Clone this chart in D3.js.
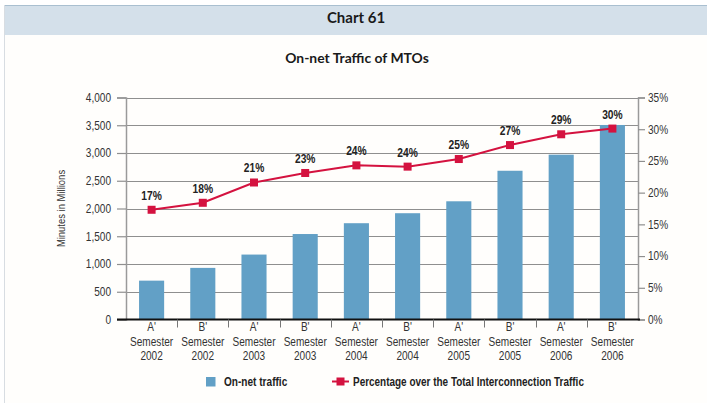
<!DOCTYPE html>
<html><head><meta charset="utf-8">
<script src="https://cdn.jsdelivr.net/npm/d3@7"></script>
<style>
html,body{margin:0;padding:0;background:#fff;}
svg{display:block;}
</style></head>
<body>
<svg id="chart" width="707" height="403"></svg>
<script>
const semesters = ["A'", "B'", "A'", "B'", "A'", "B'", "A'", "B'", "A'", "B'"];
const years = ["2002", "2002", "2003", "2003", "2004", "2004", "2005", "2005", "2006", "2006"];
const categories = semesters.map((s, i) => s + " Semester " + years[i]);
const onNetTraffic = [700, 930, 1170, 1540, 1735, 1915, 2130, 2680, 2970, 3505];
const percentage = [17.3, 18.4, 21.6, 23.1, 24.3, 24.1, 25.3, 27.5, 29.2, 30.1];
const percentLabels = ["17%", "18%", "21%", "23%", "24%", "24%", "25%", "27%", "29%", "30%"];
const leftTicks = [0, 500, 1000, 1500, 2000, 2500, 3000, 3500, 4000];
const rightTicks = [0, 5, 10, 15, 20, 25, 30, 35];
const chartNumber = "Chart 61";
const chartTitle = "On-net Traffic of MTOs";
const yTitle = "Minutes in Millions";
const legendLabels = ["On-net traffic", "Percentage over the Total Interconnection Traffic"];

const svg = d3.select("#chart");
const sans = "'Liberation Sans', Arial, sans-serif";
const NX = 0.84; // horizontal condensing factor
const barColor = "#62a0c6";
const lineColor = "#d4123f";

const plot = {left: 126, right: 638, top: 97.5, bottom: 319.5};

function narrowText(parent, x, y, txt, opts = {}) {
  return parent.append("text")
    .attr("transform", `translate(${x},${y})${opts.rotate ? ` rotate(${opts.rotate})` : ""} scale(${opts.k || NX},1)`)
    .attr("text-anchor", opts.anchor || "middle")
    .attr("font-family", sans)
    .attr("font-weight", opts.bold ? "bold" : "normal")
    .attr("font-size", opts.size || 12)
    .attr("fill", opts.fill || "#333")
    .text(txt);
}

// header band
svg.append("rect").attr("x", 4).attr("y", 5).attr("width", 703).attr("height", 30).attr("fill", "#d4e0ea");
svg.append("line").attr("x1", 4).attr("x2", 707).attr("y1", 5.5).attr("y2", 5.5).attr("stroke", "#a9bfd0").attr("stroke-width", 1);
svg.append("rect").attr("x", 4).attr("y", 35).attr("width", 703).attr("height", 368).attr("fill", "#fffefc");
svg.append("line").attr("x1", 4.5).attr("x2", 4.5).attr("y1", 5).attr("y2", 403).attr("stroke", "#d8dde2");

svg.append("text").attr("x", 356).attr("y", 23).attr("text-anchor", "middle")
  .attr("font-family", "Lato, 'Open Sans', sans-serif").attr("font-weight", "bold").attr("font-size", 15)
  .attr("fill", "#1a1a1a").text(chartNumber);
svg.append("text").attr("x", 357).attr("y", 63).attr("text-anchor", "middle")
  .attr("font-family", "Lato, 'Open Sans', sans-serif").attr("font-weight", "bold").attr("font-size", 13.9)
  .attr("fill", "#1a1a1a").text(chartTitle);

const x = d3.scaleBand().domain(categories).range([plot.left, plot.right]).paddingInner(0.51).paddingOuter(0.255);
const yL = d3.scaleLinear().domain([0, 4000]).range([plot.bottom, plot.top]);
const yR = d3.scaleLinear().domain([0, 35]).range([plot.bottom, plot.top]);
const cx = c => x(c) + x.bandwidth() / 2;

// gridlines
svg.append("g").selectAll("line").data(leftTicks.filter(d => d > 0)).join("line")
  .attr("x1", plot.left).attr("x2", plot.right)
  .attr("y1", d => Math.round(yL(d)) + 0.5).attr("y2", d => Math.round(yL(d)) + 0.5)
  .attr("stroke", "#8f8f8f").attr("stroke-width", 1.2);

// left axis
const gL = svg.append("g").attr("transform", `translate(${plot.left},0)`)
  .call(d3.axisLeft(yL).tickValues(leftTicks).tickFormat(d3.format(",")).tickSize(9).tickPadding(5));
gL.select(".domain").attr("stroke", "#9a9a9a").attr("stroke-width", 1.5);
gL.selectAll(".tick line").attr("stroke", "#8f8f8f").attr("stroke-width", 1.2);
gL.selectAll(".tick text").attr("font-family", sans).attr("font-size", 12).attr("fill", "#333")
  .attr("x", 0).attr("transform", `translate(-15,0) scale(${NX},1)`);

// right axis
const gR = svg.append("g").attr("transform", `translate(${plot.right},0)`)
  .call(d3.axisRight(yR).tickValues(rightTicks).tickFormat(d => d + "%").tickSize(7).tickPadding(3));
gR.select(".domain").attr("stroke", "#9a9a9a").attr("stroke-width", 1.5);
gR.selectAll(".tick line").attr("stroke", "#8f8f8f").attr("stroke-width", 1.2);
gR.selectAll(".tick text").attr("font-family", sans).attr("font-size", 12).attr("fill", "#333")
  .attr("x", 0).attr("transform", `translate(10,0) scale(${NX},1)`);

// y title
narrowText(svg, 65, (plot.top + plot.bottom) / 2, yTitle, {rotate: -90, size: 11, k: 0.86});

// bars
svg.append("g").selectAll("rect").data(onNetTraffic).join("rect")
  .attr("x", (d, i) => x(categories[i])).attr("width", x.bandwidth())
  .attr("y", d => yL(d)).attr("height", d => yL(0) - yL(d))
  .attr("fill", barColor);

// baseline
svg.append("line").attr("x1", plot.left - 9).attr("x2", plot.right + 2)
  .attr("y1", yL(0)).attr("y2", yL(0)).attr("stroke", "#111").attr("stroke-width", 2.2);

// category ticks (boundaries between bands)
svg.append("g").selectAll("line").data(categories.slice(1)).join("line")
  .attr("x1", d => Math.round(cx(d) - x.step() / 2) + 0.5).attr("x2", d => Math.round(cx(d) - x.step() / 2) + 0.5)
  .attr("y1", yL(0)).attr("y2", yL(0) + 8).attr("stroke", "#777").attr("stroke-width", 1);

// category labels
const catG = svg.append("g");
categories.forEach((c, i) => {
  narrowText(catG, cx(c), 331, semesters[i]);
  narrowText(catG, cx(c), 346, "Semester");
  narrowText(catG, cx(c), 360, years[i]);
});

// line
const line = d3.line().x((d, i) => cx(categories[i])).y(d => yR(d));
svg.append("path").datum(percentage).attr("d", line).attr("fill", "none")
  .attr("stroke", lineColor).attr("stroke-width", 2);
svg.append("g").selectAll("rect").data(percentage).join("rect")
  .attr("x", (d, i) => cx(categories[i]) - 4).attr("y", d => yR(d) - 4)
  .attr("width", 8).attr("height", 8).attr("fill", lineColor);
const lblG = svg.append("g");
percentage.forEach((d, i) => {
  narrowText(lblG, cx(categories[i]), yR(d) - 10, percentLabels[i], {bold: true, fill: "#222", size: 12.5, k: 0.82});
});

// legend
svg.append("rect").attr("x", 206).attr("y", 377).attr("width", 9.5).attr("height", 9.5).attr("fill", barColor);
narrowText(svg, 224, 386, legendLabels[0], {anchor: "start", bold: true, size: 12, fill: "#222", k: 0.84});
svg.append("line").attr("x1", 332).attr("x2", 349).attr("y1", 381.5).attr("y2", 381.5)
  .attr("stroke", lineColor).attr("stroke-width", 2);
svg.append("rect").attr("x", 336.5).attr("y", 377.5).attr("width", 8).attr("height", 8).attr("fill", lineColor);
narrowText(svg, 353, 386, legendLabels[1], {anchor: "start", bold: true, size: 12, fill: "#222", k: 0.83});
</script>
</body></html>
